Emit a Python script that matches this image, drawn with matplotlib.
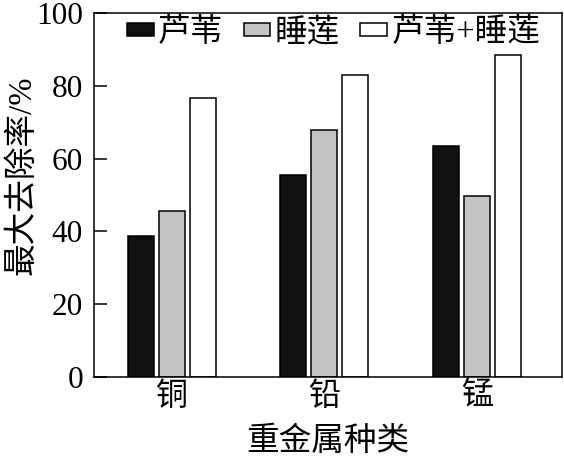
import matplotlib
matplotlib.use("Agg")
import matplotlib.pyplot as plt
import numpy as np

plt.rcParams['font.family'] = ['Liberation Serif', 'Noto Sans CJK SC', 'DejaVu Sans']

categories = ['铜', '铅', '锰']
series_names = ['芦苇', '睡莲', '芦苇+睡莲']
reed = [38.7, 55.4, 63.4]
lily = [45.6, 67.8, 49.7]
combined = [76.6, 82.9, 88.6]
y_ticks = [0, 20, 40, 60, 80, 100]

fig = plt.figure(figsize=(5.64, 4.57), dpi=100)
ax = fig.add_axes([0.1667, 0.1757, 0.996 - 0.1667, 0.971 - 0.1757])

x = np.arange(len(categories))
w = 0.17
step = 0.203
styles = [dict(facecolor='#111111'), dict(facecolor='#c4c4c4'), dict(facecolor='white')]
for i, (vals, name, st) in enumerate(zip([reed, lily, combined], series_names, styles)):
    ax.bar(x + (i - 1) * step, vals, width=w, edgecolor='black', linewidth=1.1,
           label=name, **st)

ax.set_xlim(-0.51, 2.555)
ax.set_ylim(0, 100)
ax.set_yticks(y_ticks)
ax.set_yticklabels([str(t) for t in y_ticks])
ax.set_xticks(x)
ax.set_xticklabels(categories)
ax.tick_params(axis='y', direction='in', length=9.5, width=1.1, labelsize=22.5, pad=8)
ax.tick_params(axis='x', length=0, labelsize=23, pad=4)
for s in ax.spines.values():
    s.set_linewidth(1.1)

ax.set_ylabel('最大去除率/%', fontsize=23.5, va='center')
ax.yaxis.set_label_coords(-0.154, 0.555)
ax.set_xlabel('重金属种类', fontsize=23.5, va='center')
ax.xaxis.set_label_coords(0.5, -0.18)

leg = ax.legend(loc='center left', bbox_to_anchor=(0.07, 0.946), ncol=3, frameon=False,
                fontsize=23.5, handlelength=0.82, handleheight=0.22, handletextpad=0.14,
                columnspacing=0.62, borderpad=0, borderaxespad=0)

fig.savefig('out.png', dpi=100)
